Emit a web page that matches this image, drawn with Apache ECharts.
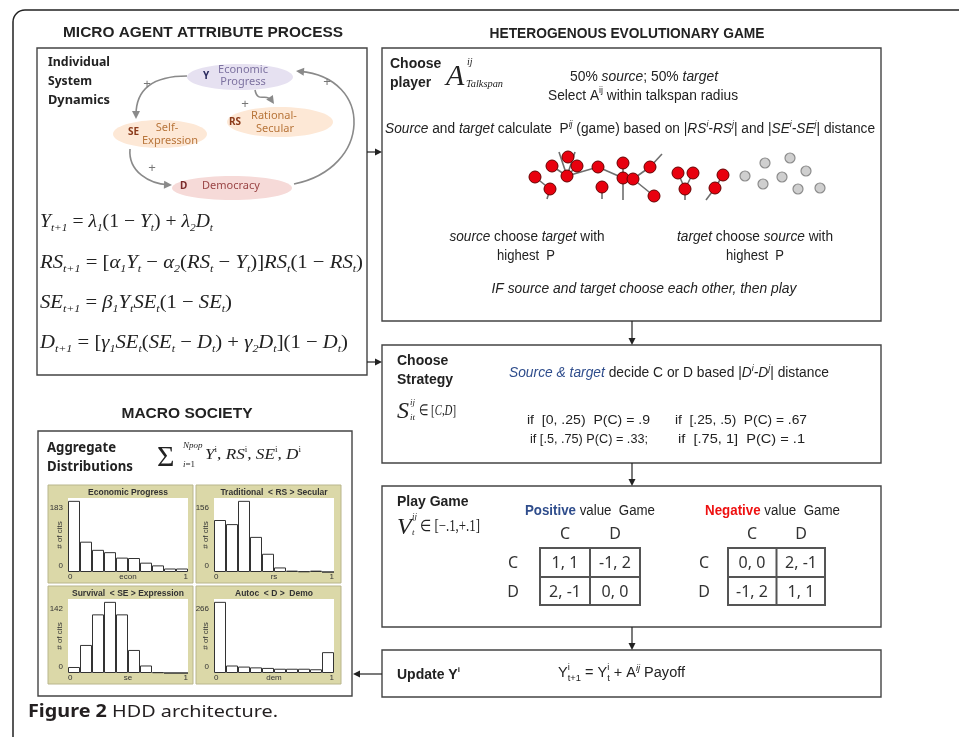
<!DOCTYPE html>
<html><head><meta charset="utf-8">
<script src="https://cdn.jsdelivr.net/npm/echarts@6/dist/echarts.min.js"></script>
<style>html,body{margin:0;padding:0;background:#fff}#c{width:959px;height:737px}</style>
</head><body><div id="c"></div><script>
// ---------------- data ----------------
const histTitles = ['Economic Progress', 'Traditional  < RS > Secular', 'Survival  < SE > Expression', 'Autoc  < D >  Demo'];
const histAxisNames = ['econ', 'rs', 'se', 'dem'];
const histYMaxLabels = [183, 156, 142, 266];
const xTickLabels = [0, 1];
const econCounts = [183, 78, 57, 51, 37, 36, 24, 17, 9, 9];
const rsCounts = [114, 105, 156, 77, 40, 10, 3, 1.5, 3, 0];
const seCounts = [12, 56, 117, 142, 117, 46, 15, 1.5, 0, 0];
const demCounts = [266, 28, 24, 21, 19, 16, 16, 16, 14, 78];
const strategies = ['C', 'D'];
const positivePayoff = [['1, 1', '-1, 2'], ['2, -1', '0, 0']];
const negativePayoff = [['0, 0', '2, -1'], ['-1, 2', '1, 1']];
// network snapshot (agent positions in talkspan units)
const redNodes = [[10,27],[25,39],[27,16],[42,26],[52,16],[73,17],[77,37],[98,13],[98,28],[108,29],[125,17],[129,46],[153,23],[168,23],[160,39],[198,25],[190,38],[43,7]];
const grayNodes = [[220,26],[240,13],[257,27],[238,34],[281,21],[273,39],[295,38],[265,8]];
const edgeEnds = [[22,49],[34,2],[50,2],[98,50],[77,49],[160,50],[181,50],[137,4]];
const edges = [['r0','r1'],['r1','h0'],['r2','r3'],['r3','r4'],['r3','r5'],['r3','h1'],['r3','h2'],['r5','r8'],['r7','r8'],['r8','r9'],['r8','h3'],['r9','r10'],['r9','r11'],['r6','h4'],['r12','r14'],['r13','r14'],['r14','h5'],['r15','r16'],['r16','h6'],['r10','h7']];

// ---------------- helpers ----------------
const FS = '"Liberation Sans", Arial, sans-serif';
const FT = '"Liberation Serif", "Times New Roman", serif';
const FN = '"Noto Sans", "Open Sans", sans-serif';
const mctx = document.createElement('canvas').getContext('2d');
function mw(f, s) { mctx.font = f; return mctx.measureText(s).width; }
function T(x, y, parts, o) {
  o = o || {};
  let cx = 0; const kids = [];
  parts.forEach(p => {
    if (typeof p === 'string') p = { t: p };
    const c = p.c || o.c || '#222';
    let f, s;
    if (p.t !== undefined) { f = p.f || o.f; s = p.t; }
    else if (p.i !== undefined) { f = p.f || o.fi; s = p.i; }
    else if (p.b !== undefined) { f = p.f || o.fb; s = p.b; }
    if (s !== undefined) {
      kids.push({ type: 'text', x: cx, y: p.dy || 0, style: { text: s, font: f, fill: c, align: 'left', verticalAlign: 'middle' } });
      cx += mw(f, s);
    } else {
      const sf = p.f || o.sf; let w = 0;
      if (p.sup !== undefined) {
        kids.push({ type: 'text', x: cx, y: p.up !== undefined ? p.up : (o.up !== undefined ? o.up : -6), style: { text: p.sup, font: sf, fill: c, align: 'left', verticalAlign: 'middle' } });
        w = Math.max(w, mw(sf, p.sup));
      }
      if (p.sub !== undefined) {
        kids.push({ type: 'text', x: cx, y: p.dn !== undefined ? p.dn : (o.dn !== undefined ? o.dn : 5), style: { text: p.sub, font: sf, fill: c, align: 'left', verticalAlign: 'middle' } });
        w = Math.max(w, mw(sf, p.sub));
      }
      cx += w + (p.gap || 0);
    }
  });
  const sx = o.w ? o.w / cx : 1;
  const tw = cx * sx;
  const x0 = o.align === 'center' ? x - tw / 2 : (o.align === 'right' ? x - tw : x);
  return { type: 'group', x: x0, y: y, scaleX: sx, children: kids, silent: true };
}
function head(x2, y2, a, color, L, W) {
  const bx = x2 - L * Math.cos(a), by = y2 - L * Math.sin(a);
  return { type: 'polygon', shape: { points: [[x2, y2], [bx - W * Math.sin(a), by + W * Math.cos(a)], [bx + W * Math.sin(a), by - W * Math.cos(a)]] }, style: { fill: color } };
}
function arrow(x1, y1, x2, y2) {
  const a = Math.atan2(y2 - y1, x2 - x1), L = 7;
  return [{ type: 'line', shape: { x1, y1, x2: x2 - L * Math.cos(a), y2: y2 - L * Math.sin(a) }, style: { stroke: '#222', lineWidth: 1.2 } }, head(x2, y2, a, '#222', L, 3.5)];
}
function curve(x1, y1, c1x, c1y, c2x, c2y, x2, y2) {
  const a = Math.atan2(y2 - c2y, x2 - c2x);
  return [{ type: 'bezierCurve', shape: { x1, y1, cpx1: c1x, cpy1: c1y, cpx2: c2x, cpy2: c2y, x2: x2 - 4 * Math.cos(a), y2: y2 - 4 * Math.sin(a) }, style: { stroke: '#8a8a8a', lineWidth: 1.6, fill: null } }, head(x2, y2, a, '#8a8a8a', 8, 4)];
}
function box(x, y, w, h, extra) {
  return Object.assign({ type: 'rect', shape: { x, y, width: w, height: h }, style: { fill: null, stroke: '#444', lineWidth: 1.4 } }, extra || {});
}

const G = [];
// outer frame
G.push({ type: 'rect', shape: { x: 13, y: 10, width: 1000, height: 800, r: [12, 0, 0, 0] }, style: { fill: null, stroke: '#222', lineWidth: 1.5 } });
// headings
const HB = 'bold 14px ' + FS;
G.push(T(203, 33, ['MICRO AGENT ATTRIBUTE PROCESS'], { f: HB, align: 'center', w: 280 }));
G.push(T(627, 34, ['HETEROGENOUS EVOLUTIONARY GAME'], { f: HB, align: 'center', w: 275 }));
G.push(T(187, 414, ['MACRO SOCIETY'], { f: HB, align: 'center', w: 131 }));

// ---------- micro box ----------
G.push(box(37, 48, 330, 327));
const NB = 'bold 13px ' + FN;
G.push(T(48, 62, ['Individual'], { f: NB, w: 62 }));
G.push(T(48, 81, ['System'], { f: NB, w: 44 }));
G.push(T(48, 100, ['Dynamics'], { f: NB, w: 62 }));
// ellipses
G.push({ type: 'ellipse', shape: { cx: 240, cy: 77, rx: 53, ry: 13 }, style: { fill: '#e6e1f1' } });
G.push({ type: 'ellipse', shape: { cx: 280, cy: 122, rx: 53, ry: 15 }, style: { fill: '#fde8d6' } });
G.push({ type: 'ellipse', shape: { cx: 160, cy: 134, rx: 47, ry: 14 }, style: { fill: '#fde8d6' } });
G.push({ type: 'ellipse', shape: { cx: 232, cy: 188, rx: 60, ry: 12 }, style: { fill: '#f6dad8' } });
const EF = '11px ' + FN, EB = 'bold 10px ' + FN;
G.push(T(203, 76, ['Y'], { f: EB, c: '#2b2b5e' }));
G.push(T(243, 70, ['Economic'], { f: EF, c: '#7d72a0', align: 'center' }));
G.push(T(243, 82, ['Progress'], { f: EF, c: '#7d72a0', align: 'center' }));
G.push(T(229, 122, ['RS'], { f: EB, c: '#8b3a1a' }));
G.push(T(274, 116, ['Rational-'], { f: EF, c: '#b8753a', align: 'center' }));
G.push(T(275, 129, ['Secular'], { f: EF, c: '#b8753a', align: 'center' }));
G.push(T(128, 132, ['SE'], { f: EB, c: '#8b3a1a' }));
G.push(T(167, 128, ['Self-'], { f: EF, c: '#b8753a', align: 'center' }));
G.push(T(170, 141, ['Expression'], { f: EF, c: '#b8753a', align: 'center' }));
G.push(T(180, 186, ['D'], { f: EB, c: '#7a2a2a' }));
G.push(T(231, 186, ['Democracy'], { f: EF, c: '#9a4545', align: 'center' }));
// feedback curves
G.push(...curve(187, 76, 150, 76, 136, 92, 136, 119));
G.push(...curve(255, 90, 258, 104, 266, 92, 274, 104));
G.push(...curve(130, 149, 128, 172, 150, 184, 172, 185));
G.push(...curve(294, 184, 372, 168, 374, 78, 296, 71));
const PL = '13px ' + FS;
[[147, 84], [245, 104], [152, 168], [327, 82]].forEach(p => G.push(T(p[0], p[1], ['+'], { f: PL, c: '#777', align: 'center' })));
// equations
const EQ = { f: '19px ' + FT, fi: 'italic 19px ' + FT, sf: 'italic 11px ' + FT, dn: 6 };
G.push(T(40, 222, [{ i: 'Y' }, { sub: 't+1' }, ' = ', { i: 'λ' }, { sub: '1' }, '(1 − ', { i: 'Y' }, { sub: 't' }, ') + ', { i: 'λ' }, { sub: '2' }, { i: 'D' }, { sub: 't' }], Object.assign({ w: 173 }, EQ)));
G.push(T(40, 263, [{ i: 'RS' }, { sub: 't+1' }, ' = [', { i: 'α' }, { sub: '1' }, { i: 'Y' }, { sub: 't' }, ' − ', { i: 'α' }, { sub: '2' }, '(', { i: 'RS' }, { sub: 't' }, ' − ', { i: 'Y' }, { sub: 't' }, ')]', { i: 'RS' }, { sub: 't' }, '(1 − ', { i: 'RS' }, { sub: 't' }, ')'], Object.assign({ w: 323 }, EQ)));
G.push(T(40, 303, [{ i: 'SE' }, { sub: 't+1' }, ' = ', { i: 'β' }, { sub: '1' }, { i: 'Y' }, { sub: 't' }, { i: 'SE' }, { sub: 't' }, '(1 − ', { i: 'SE' }, { sub: 't' }, ')'], Object.assign({ w: 192 }, EQ)));
G.push(T(40, 343, [{ i: 'D' }, { sub: 't+1' }, ' = [', { i: 'γ' }, { sub: '1' }, { i: 'SE' }, { sub: 't' }, '(', { i: 'SE' }, { sub: 't' }, ' − ', { i: 'D' }, { sub: 't' }, ') + ', { i: 'γ' }, { sub: '2' }, { i: 'D' }, { sub: 't' }, '](1 − ', { i: 'D' }, { sub: 't' }, ')'], Object.assign({ w: 308 }, EQ)));

// ---------- right boxes ----------
G.push(box(382, 48, 499, 273));
G.push(box(382, 345, 499, 118));
G.push(box(382, 486, 499, 141));
G.push(box(382, 650, 499, 47));
G.push(...arrow(367, 152, 382, 152));
G.push(...arrow(367, 362, 382, 362));
G.push(...arrow(632, 321, 632, 345));
G.push(...arrow(632, 463, 632, 486));
G.push(...arrow(632, 627, 632, 650));
G.push(...arrow(382, 674, 353, 674));

const LB = 'bold 14px ' + FS;
const TX = { f: '14px ' + FS, fi: 'italic 14px ' + FS, fb: 'bold 14px ' + FS, sf: '9px ' + FS, up: -5 };
const TX2 = { f: '13px ' + FS, fi: 'italic 13px ' + FS, fb: 'bold 13px ' + FS, sf: '9px ' + FS, up: -5 };
// box 1
G.push(T(390, 64, ['Choose'], { f: LB }));
G.push(T(390, 83, ['player'], { f: LB }));
G.push(T(446, 77, [{ i: 'A' }], { fi: 'italic 30px ' + FT }));
G.push(T(467, 62, [{ i: 'ij' }], { fi: 'italic 10px ' + FT }));
G.push(T(466, 84, [{ i: 'Talkspan' }], { fi: 'italic 10px ' + FT, w: 37 }));
G.push(T(644, 77, ['50% ', { i: 'source' }, '; 50% ', { i: 'target' }], Object.assign({ align: 'center', w: 148 }, TX)));
G.push(T(643, 96, ['Select A', { sup: 'ij' }, ' within talkspan radius'], Object.assign({ align: 'center', w: 190 }, TX)));
G.push(T(630, 129, [{ i: 'Source' }, ' and ', { i: 'target' }, ' calculate  P', { sup: 'ij', f: 'italic 9px ' + FS }, ' (game) based on |', { i: 'RS' }, { sup: 'i', f: 'italic 9px ' + FS }, { i: '-RS' }, { sup: 'j', f: 'italic 9px ' + FS }, '| and |', { i: 'SE' }, { sup: 'i', f: 'italic 9px ' + FS }, { i: '-SE' }, { sup: 'j', f: 'italic 9px ' + FS }, '| distance'], Object.assign({ align: 'center', w: 490 }, TX)));
G.push(T(527, 237, [{ i: 'source' }, ' choose ', { i: 'target' }, ' with'], Object.assign({ align: 'center', w: 155 }, TX)));
G.push(T(526, 256, ['highest  P'], Object.assign({ align: 'center', w: 58 }, TX)));
G.push(T(755, 237, [{ i: 'target' }, ' choose ', { i: 'source' }, ' with'], Object.assign({ align: 'center', w: 156 }, TX)));
G.push(T(755, 256, ['highest  P'], Object.assign({ align: 'center', w: 58 }, TX)));
G.push(T(644, 289, [{ i: 'IF source and target choose each other, then play' }], Object.assign({ align: 'center', w: 305 }, TX)));
// box 2
G.push(T(397, 361, ['Choose'], { f: LB }));
G.push(T(397, 380, ['Strategy'], { f: LB }));
G.push(T(397, 412, [{ i: 'S' }], { fi: 'italic 24px ' + FT }));
G.push(T(410, 403, [{ i: 'ij' }], { fi: 'italic 9px ' + FT }));
G.push(T(410, 418, [{ i: 'it' }], { fi: 'italic 9px ' + FT }));
G.push(T(419, 411, ['∈ [', { i: 'C' }, ',', { i: 'D' }, ']'], { f: '15px ' + FT, fi: 'italic 15px ' + FT, w: 37 }));
G.push(T(669, 373, [{ i: 'Source & target', c: '#2f4d8c' }, ' decide C or D based |', { i: 'D' }, { sup: 'i', f: 'italic 9px ' + FS }, { i: '-D' }, { sup: 'j', f: 'italic 9px ' + FS }, '| distance'], Object.assign({ align: 'center', w: 320 }, TX)));
G.push(T(527, 420, ['if  [0, .25)  P(C) = .9'], Object.assign({ w: 123 }, TX2)));
G.push(T(675, 420, ['if  [.25, .5)  P(C) = .67'], Object.assign({ w: 132 }, TX2)));
G.push(T(530, 439, ['if [.5, .75) P(C) = .33;'], Object.assign({ w: 118 }, TX2)));
G.push(T(678, 439, ['if  [.75, 1]  P(C) = .1'], Object.assign({ w: 127 }, TX2)));
// box 3
G.push(T(397, 502, ['Play Game'], { f: LB }));
G.push(T(397, 528, [{ i: 'V' }], { fi: 'italic 24px ' + FT }));
G.push(T(412, 517, [{ i: 'ij' }], { fi: 'italic 9px ' + FT }));
G.push(T(412, 533, [{ i: 't' }], { fi: 'italic 9px ' + FT }));
G.push(T(420, 527, ['∈ [−.1,+.1]'], { f: '16px ' + FT, w: 60 }));
G.push(T(525, 511, [{ b: 'Positive', c: '#2f4d8c' }, ' value  Game'], Object.assign({ w: 130 }, TX)));
G.push(T(705, 511, [{ b: 'Negative', c: '#ee1111' }, ' value  Game'], Object.assign({ w: 135 }, TX)));
const CF = '16px ' + FN;
function payoffTable(x0, colX, rowLabelX, pay) {
  const y0 = 548, y1 = 577, y2 = 605, xm = colX[0] + (colX[1] - colX[0]) / 2, x1 = x0 + 2 * (xm - x0);
  strategies.forEach((s, k) => {
    G.push(T(colX[k], 534, [s], { f: CF, align: 'center', c: '#333' }));
    G.push(T(rowLabelX, k ? 592 : 563, [s], { f: CF, align: 'center', c: '#333' }));
    pay[k].forEach((v, j) => G.push(T(colX[j], k ? 592 : 563, [v], { f: CF, align: 'center', c: '#333' })));
  });
  const st = { stroke: '#555', lineWidth: 2 };
  G.push({ type: 'rect', shape: { x: x0, y: y0, width: x1 - x0, height: y2 - y0 }, style: Object.assign({ fill: null }, st) });
  G.push({ type: 'line', shape: { x1: xm, y1: y0, x2: xm, y2: y2 }, style: st });
  G.push({ type: 'line', shape: { x1: x0, y1: y1, x2: x1, y2: y1 }, style: st });
}
payoffTable(540, [565, 615], 513, positivePayoff);
payoffTable(728, [752, 801], 704, negativePayoff);
// box 4
G.push(T(397, 675, ['Update Y', { sup: 'i' }], { f: LB, sf: 'bold 8px ' + FS, up: -5 }));
G.push(T(558, 673, ['Y', { sup: 'i', sub: 't+1', dn: 6 }, ' = Y', { sup: 'i', sub: 't', dn: 6 }, ' + A', { sup: 'ij', f: 'italic 9px ' + FS }, ' Payoff'], Object.assign({ w: 127 }, TX)));

// ---------- macro box ----------
G.push(box(38, 431, 314, 265));
const AB = 'bold 14px ' + FN;
G.push(T(47, 448, ['Aggregate'], { f: AB, w: 69 }));
G.push(T(47, 467, ['Distributions'], { f: AB, w: 86 }));
G.push(T(157, 458, ['Σ'], { f: '30px ' + FT }));
G.push(T(183, 446, [{ i: 'Npop' }], { fi: 'italic 9px ' + FT }));
G.push(T(183, 465, [{ i: 'i' }, '=1'], { f: '9px ' + FT, fi: 'italic 9px ' + FT }));
G.push(T(205, 455, [{ i: 'Y' }, { sup: 'i' }, ', ', { i: 'RS' }, { sup: 'i' }, ', ', { i: 'SE' }, { sup: 'i' }, ', ', { i: 'D' }, { sup: 'i' }], { f: '15px ' + FT, fi: 'italic 15px ' + FT, sf: '8px ' + FT, up: -5, w: 96 }));
const panels = [
  { px: 48, py: 485, gx: 68, gy: 498 },
  { px: 196, py: 485, gx: 214, gy: 498 },
  { px: 48, py: 586, gx: 68, gy: 599 },
  { px: 196, py: 586, gx: 214, gy: 599 }];
const PW = 145, PH = 98, GW = 120, GH = 74;
panels.forEach((p, i) => {
  G.push({ type: 'rect', z: -10, shape: { x: p.px, y: p.py, width: PW, height: PH }, style: { fill: '#dbd8a8', stroke: '#b9b68c', lineWidth: 1 } });
  G.push({ type: 'rect', z: -9, shape: { x: p.gx, y: p.gy, width: GW, height: GH }, style: { fill: '#ffffff' } });
  G.push(T(p.gx + GW / 2, p.py + 8, [histTitles[i]], { f: 'bold 8.5px ' + FS, c: '#333', align: 'center' }));
});

// caption
G.push(T(28, 712, [{ b: 'Figure 2' }, ' HDD architecture.'], { f: '17px ' + FN, fb: 'bold 17px ' + FN, c: '#231f20', w: 250 }));

// ---------- charts ----------
const allCounts = [econCounts, rsCounts, seCounts, demCounts];
const grids = [], xAxes = [], yAxes = [], series = [];
const AL = { fontSize: 8, fontFamily: FS, color: '#333' };
panels.forEach((p, i) => {
  grids.push({ left: p.gx, top: p.gy, width: GW, height: GH, containLabel: false });
  xAxes.push({ type: 'category', gridIndex: i, position: 'top', data: allCounts[i].map((_, k) => k), show: false });
  xAxes.push({ type: 'value', gridIndex: i, position: 'bottom', min: xTickLabels[0], max: xTickLabels[1], interval: 1,
    axisLine: { show: false }, axisTick: { show: false }, splitLine: { show: false },
    axisLabel: Object.assign({ margin: 1, showMinLabel: true, showMaxLabel: true, alignMinLabel: 'left', alignMaxLabel: 'right' }, AL),
    name: histAxisNames[i], nameLocation: 'middle', nameGap: 1, nameMoveOverlap: false, nameTextStyle: Object.assign({ verticalAlign: 'top' }, AL) });
  const ym = histYMaxLabels[i];
  yAxes.push({ type: 'value', gridIndex: i, min: 0, max: ym * 1.04,
    axisLine: { show: false }, axisTick: { show: false }, splitLine: { show: false },
    axisLabel: { customValues: [0, ym], margin: 5, formatter: v => v === 0 ? '{b|0}' : '{t|' + v + '}',
      rich: { t: Object.assign({ padding: [14, 0, 0, 0] }, AL), b: Object.assign({ padding: [0, 0, 12, 0] }, AL) } },
    name: '# of cits', nameLocation: 'middle', nameRotate: 90, nameGap: 4, nameMoveOverlap: false, nameTextStyle: AL });
  series.push({ type: 'bar', xAxisIndex: 2 * i, yAxisIndex: i, data: allCounts[i], barCategoryGap: '0%',
    itemStyle: { color: '#ffffff', borderColor: '#333', borderWidth: 1 }, silent: true });
});
// network grid
grids.push({ left: 525, top: 150, width: 310, height: 50 });
xAxes.push({ type: 'value', gridIndex: 4, min: 0, max: 310, show: false });
yAxes.push({ type: 'value', gridIndex: 4, min: 0, max: 50, inverse: true, show: false });
const nodes = [];
redNodes.forEach((v, k) => nodes.push({ name: 'r' + k, value: v, symbolSize: 12, itemStyle: { color: '#e8000e', borderColor: '#600', borderWidth: 1 } }));
grayNodes.forEach((v, k) => nodes.push({ name: 'g' + k, value: v, symbolSize: 10, itemStyle: { color: '#cfcfcf', borderColor: '#8c8c8c', borderWidth: 1.2 } }));
edgeEnds.forEach((v, k) => nodes.push({ name: 'h' + k, value: v, symbolSize: 0 }));
series.push({ type: 'graph', coordinateSystem: 'cartesian2d', xAxisIndex: 8, yAxisIndex: 4, layout: 'none', silent: true,
  data: nodes, links: edges.map(e => ({ source: e[0], target: e[1] })), label: { show: false },
  lineStyle: { color: '#6e6e6e', width: 1.6, opacity: 1, curveness: 0 } });

const chart = echarts.init(document.getElementById('c'), null, { renderer: 'canvas' });
chart.setOption({ animation: false, backgroundColor: '#fff', grid: grids, xAxis: xAxes, yAxis: yAxes, series: series, graphic: { elements: G } });
</script></body></html>
